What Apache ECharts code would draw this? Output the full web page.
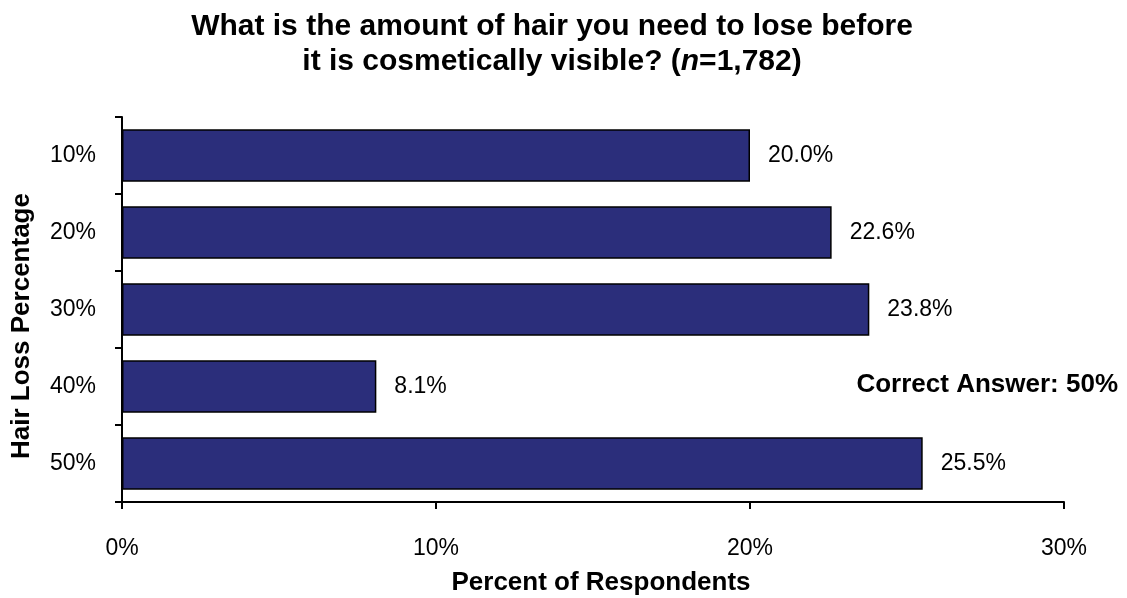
<!DOCTYPE html>
<html>
<head>
<meta charset="utf-8">
<script src="https://cdn.jsdelivr.net/npm/echarts@6/dist/echarts.min.js"></script>
<style>
html,body{margin:0;padding:0;background:#fff;}
#chart{width:1127px;height:598px;}
</style>
</head>
<body>
<div id="chart"></div>
<script>
var categories = ['10%', '20%', '30%', '40%', '50%'];
var values = [20.0, 22.6, 23.8, 8.1, 25.5];
var xTicks = [0, 10, 20, 30];
var titleLines = ['What is the amount of hair you need to lose before', 'it is cosmetically visible? ('];
var xName = 'Percent of Respondents';
var yName = 'Hair Loss Percentage';
var note = 'Correct Answer: 50%';

var FONT = '"Liberation Sans", Arial, sans-serif';
var chart = echarts.init(document.getElementById('chart'), null, {renderer: 'canvas'});
chart.setOption({
  backgroundColor: '#ffffff',
  animation: false,
  grid: {left: 122, right: 63, top: 117, bottom: 96, containLabel: false},
  xAxis: {
    type: 'value',
    min: xTicks[0], max: xTicks[xTicks.length - 1], interval: 10,
    axisLine: {show: true, lineStyle: {color: '#000', width: 2}},
    axisTick: {show: true, length: 7, lineStyle: {color: '#000', width: 2}},
    axisLabel: {formatter: '{value}%', margin: 35, fontFamily: FONT, fontSize: 23, color: '#000'},
    splitLine: {show: false}
  },
  yAxis: {
    type: 'category',
    data: categories,
    inverse: true,
    axisLine: {show: true, lineStyle: {color: '#000', width: 2}},
    axisTick: {show: true, length: 7, lineStyle: {color: '#000', width: 2}},
    axisLabel: {margin: 26, fontFamily: FONT, fontSize: 23, color: '#000'}
  },
  graphic: [
    {type: 'text', x: 552, y: 9,
     style: {
       text: titleLines[0] + '\n' + titleLines[1] + '{i|n}=1,782)',
       fontFamily: FONT, fontSize: 30, fontWeight: 'bold', fill: '#000', lineHeight: 35,
       align: 'center', verticalAlign: 'top',
       rich: {i: {fontFamily: FONT, fontSize: 30, fontWeight: 'bold', fontStyle: 'italic', fill: '#000', lineHeight: 35}}
     }},
    {type: 'text', x: 601, y: 570,
     style: {text: xName, fontFamily: FONT, fontSize: 26, fontWeight: 'bold', fill: '#000', align: 'center', verticalAlign: 'top'}},
    {type: 'text', x: 22, y: 326, rotation: Math.PI / 2,
     style: {text: yName, fontFamily: FONT, fontSize: 26, fontWeight: 'bold', fill: '#000', align: 'center', verticalAlign: 'middle'}},
    {type: 'text', x: 1118, y: 385,
     style: {text: note, fontFamily: FONT, fontSize: 26, fontWeight: 'bold', fill: '#000', align: 'right', verticalAlign: 'middle'}}
  ],
  series: [{
    type: 'bar',
    data: values,
    barWidth: '68%',
    itemStyle: {color: '#2B2E7B', borderColor: '#000', borderWidth: 1.5},
    label: {
      show: true, position: 'right', distance: 18,
      formatter: function (p) { return p.value.toFixed(1) + '%'; },
      fontFamily: FONT, fontSize: 23, color: '#000'
    }
  }]
});
</script>
</body>
</html>
